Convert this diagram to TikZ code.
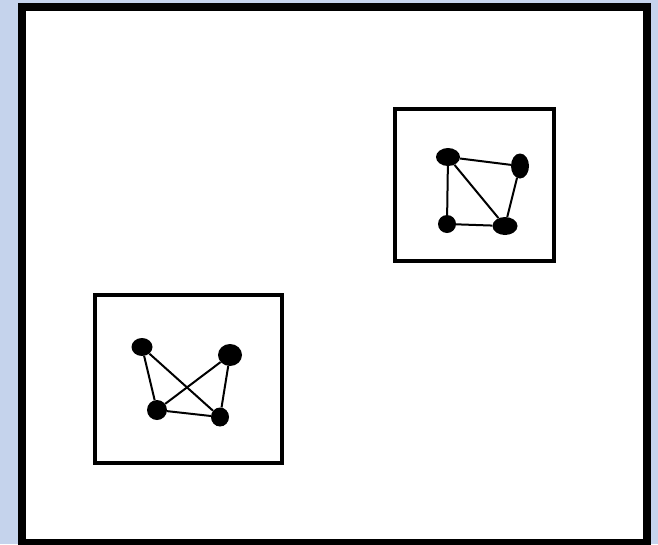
\documentclass[tikz,border=0pt]{standalone}
\usepackage{xcolor}
\usepackage{tikz}
\usetikzlibrary{shapes.geometric}

\definecolor{paleblue}{RGB}{197,211,236}

\begin{document}
\begin{tikzpicture}[
  x=1pt, y=-1pt,
  frame/.style={draw, line width=8pt, fill=white, inner sep=0pt},
  cluster/.style={draw, line width=4pt, inner sep=0pt},
  vertex/.style={ellipse, fill=black, inner sep=0pt},
  edge/.style={line width=2pt}
]
  \useasboundingbox (0,0) rectangle (658,544);
  \fill[paleblue] (0,0) rectangle (658,544);
  \clip (0,0) rectangle (658,544);

  \node[frame, minimum width=625pt, minimum height=536pt] (world) at (334.5,275) {};

  % right cluster
  \node[cluster, minimum width=159pt, minimum height=152pt] (right) at (474.5,185) {};
  \node[vertex, minimum width=24pt, minimum height=18pt] (ra) at (448,157) {};
  \node[vertex, minimum width=18pt, minimum height=25pt] (rb) at (520,166) {};
  \node[vertex, minimum width=18pt, minimum height=18pt] (rc) at (447,224) {};
  \node[vertex, minimum width=25pt, minimum height=18pt] (rd) at (505,226) {};

  \draw[edge] (ra) -- (rb);
  \draw[edge] (ra) -- (rc);
  \draw[edge] (ra) -- (rd);
  \draw[edge] (rb) -- (rd);
  \draw[edge] (rc) -- (rd);

  % left cluster
  \node[cluster, minimum width=187.5pt, minimum height=168.5pt] (left) at (188.25,378.75) {};
  \node[vertex, minimum width=21pt, minimum height=18pt] (la) at (142,347) {};
  \node[vertex, minimum width=24pt, minimum height=22pt] (lb) at (230,355) {};
  \node[vertex, minimum width=20pt, minimum height=20pt] (lc) at (157,410) {};
  \node[vertex, minimum width=18pt, minimum height=19pt] (ld) at (220,417) {};

  \draw[edge] (la) -- (lc);
  \draw[edge] (la) -- (ld);
  \draw[edge] (lb) -- (lc);
  \draw[edge] (lb) -- (ld);
  \draw[edge] (lc) -- (ld);
\end{tikzpicture}
\end{document}
